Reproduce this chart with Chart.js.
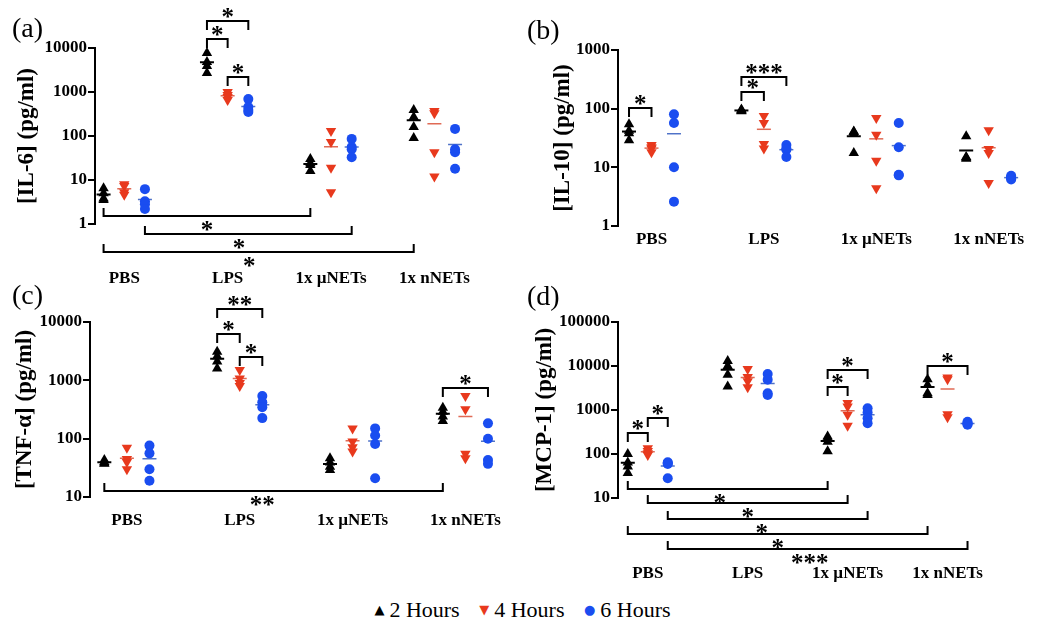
<!DOCTYPE html>
<html>
<head>
<meta charset="utf-8">
<script src="https://cdn.jsdelivr.net/npm/chart.js@4"></script>
<style>
  body { margin: 0; background: #fff; width: 1050px; height: 629px; position: relative; overflow: hidden; font-family: "Liberation Serif", "Times New Roman", Times, "DejaVu Serif", serif; }
  canvas { position: absolute; }
  #legend { position: absolute; left: 0; top: 596px; width: 1045px; text-align: center; font-size: 22px; line-height: 28px; color: #000; }
  #legend span.item { margin: 0 7px; }
  #legend span.mark { font-family: "DejaVu Sans", sans-serif; font-size: 13px; position: relative; top: -3px; margin-right: 5px; }
</style>
</head>
<body>
<canvas id="chart-a" width="515" height="300" style="left:0;top:0"></canvas>
<canvas id="chart-b" width="535" height="270" style="left:515px;top:0"></canvas>
<canvas id="chart-c" width="515" height="260" style="left:0;top:280px"></canvas>
<canvas id="chart-d" width="535" height="310" style="left:515px;top:280px"></canvas>
<div id="legend">
  <span class="item"><span class="mark" style="color:#000">▲</span>2 Hours</span>
  <span class="item"><span class="mark" style="color:#e8391d">▼</span>4 Hours</span>
  <span class="item"><span class="mark" style="color:#1a4df0">●</span>6 Hours</span>
</div>
<script>
const groups = ["PBS", "LPS", "1x µNETs", "1x nNETs"];
const seriesNames = ["2 Hours", "4 Hours", "6 Hours"];

// four mice per group, values in pg/ml
const il6_2h = [[6.5, 5.0, 3.8, 3.5], [7700, 4800, 3900, 2700], [30, 24, 22, 16], [390, 270, 160, 90]];
const il6_4h = [[8.0, 7.3, 5.3, 4.6], [1000, 850, 770, 660], [130, 73, 19, 5.3], [370, 330, 43, 12]];
const il6_6h = [[6.2, 3.3, 2.8, 2.2], [690, 455, 390, 350], [86, 56, 50, 33], [145, 50, 43, 18]];

const il10_2h = [[54, 42, 38, 29], [97, 94, 92, 90], [41, 40, 37, 17.5], [34, 15, 14.5, 14]];
const il10_4h = [[24, 22, 21, 18], [75, 57, 25, 21], [69, 36, 13, 4.4], [43, 20.5, 17.5, 5.4]];
const il10_6h = [[80, 57, 10, 2.6], [24, 21, 20, 15], [57, 22, 7.5, 7.3], [7.2, 6.8, 6.5, 6.2]];

const tnf_2h = [[43, 40, 38, 37], [3100, 2600, 2100, 1600], [46, 39, 33, 29], [340, 290, 240, 200]];
const tnf_4h = [[70, 45, 40, 30], [1500, 1080, 900, 800], [150, 89, 71, 60], [540, 320, 55, 46]];
const tnf_6h = [[76, 56, 30, 19], [540, 420, 345, 225], [150, 113, 81, 21], [183, 100, 43, 37]];

const mcp_2h = [[100, 64, 52, 37], [13000, 10000, 6300, 3400], [250, 230, 190, 115], [5000, 3700, 2400, 2200]];
const mcp_4h = [[135, 117, 104, 95], [8500, 5600, 4500, 3300], [1450, 1200, 780, 440], [5500, 5000, 800, 680]];
const mcp_6h = [[65, 62, 59, 28], [6600, 4900, 2400, 2200], [1100, 880, 650, 500], [540, 500, 485, 460]];

const il6Ticks = [1, 10, 100, 1000, 10000];
const il10Ticks = [1, 10, 100, 1000];
const tnfTicks = [10, 100, 1000, 10000];
const mcpTicks = [10, 100, 1000, 10000, 100000];

// significance brackets: [group, series] at each end, y in pg/ml
const il6Sig = [
    { from: [1, 0], to: [1, 2], y: 41000, legs: "down", text: "*" },
    { from: [1, 0], to: [1, 1], y: 16000, legs: "down", text: "*" },
    { from: [1, 1], to: [1, 2], y: 2200, legs: "down", text: "*" },
    { from: [0, 0], to: [2, 0], y: 1.5, legs: "up", text: "*" },
    { from: [0, 2], to: [2, 2], y: 0.59, legs: "up", text: "*", dx: -0.09 },
    { from: [0, 0], to: [3, 0], y: 0.23, legs: "up", text: "*", dx: -0.09 },
];
const il10Sig = [
    { from: [0, 0], to: [0, 1], y: 103, legs: "down", text: "*" },
    { from: [1, 0], to: [1, 1], y: 192, legs: "down", text: "*" },
    { from: [1, 0], to: [1, 2], y: 346, legs: "down", text: "***" },
];
const tnfSig = [
    { from: [1, 0], to: [1, 2], y: 16700, legs: "down", text: "**" },
    { from: [1, 0], to: [1, 1], y: 6200, legs: "down", text: "*" },
    { from: [1, 1], to: [1, 2], y: 2500, legs: "down", text: "*" },
    { from: [3, 0], to: [3, 2], y: 740, legs: "down", text: "*" },
    { from: [0, 0], to: [3, 0], y: 12.7, legs: "up", text: "**", dx: -0.1 },
];
const mcpSig = [
    { from: [0, 0], to: [0, 1], y: 307, legs: "down", text: "*" },
    { from: [0, 1], to: [0, 2], y: 650, legs: "down", text: "*" },
    { from: [2, 0], to: [2, 1], y: 3400, legs: "down", text: "*" },
    { from: [2, 0], to: [2, 2], y: 8200, legs: "down", text: "*" },
    { from: [3, 0], to: [3, 2], y: 10100, legs: "down", text: "*" },
    { from: [0, 0], to: [2, 0], y: 16, legs: "up", text: "*", dx: -0.08 },
    { from: [0, 1], to: [2, 1], y: 7.6, legs: "up", text: "*" },
    { from: [0, 2], to: [2, 2], y: 3.3, legs: "up", text: "*", dx: -0.06 },
    { from: [0, 0], to: [3, 0], y: 1.5, legs: "up", text: "*" },
    { from: [0, 2], to: [3, 2], y: 0.71, legs: "up", text: "***", dx: -0.08 },
];

const seriesOffsets = [-0.2, 0, 0.2];
const seriesColors = ["#000000", "#e8391d", "#1a4df0"];
const meanColors = ["#000000", "#e06a55", "#4f72c8"];
const FONT = "'Liberation Serif', 'Times New Roman', Times, 'DejaVu Serif', serif";

Chart.defaults.font.family = FONT;
Chart.defaults.color = "#000";

function bracketPlugin(cfg) {
    return {
        id: "brackets",
        afterDraw(chart) {
            const { ctx, scales: { x, y } } = chart;
            ctx.save();
            ctx.strokeStyle = "#000";
            ctx.fillStyle = "#000";
            ctx.lineWidth = 2;
            ctx.lineCap = "square";
            ctx.textAlign = "center";
            ctx.textBaseline = "alphabetic";
            ctx.font = "bold 25px " + FONT;
            cfg.sig.forEach((b) => {
                const v1 = b.from[0] + seriesOffsets[b.from[1]];
                const v2 = b.to[0] + seriesOffsets[b.to[1]];
                const x1 = x.getPixelForValue(v1);
                const x2 = x.getPixelForValue(v2);
                const py = Math.round(y.getPixelForValue(b.y));
                const leg = b.legs === "down" ? 8 : -7;
                ctx.beginPath();
                ctx.moveTo(x1, py + leg);
                ctx.lineTo(x1, py);
                ctx.lineTo(x2, py);
                ctx.lineTo(x2, py + leg);
                ctx.stroke();
                const mid = (v1 + v2) / 2 + (b.dx || 0);
                const starY = b.legs === "down" ? py - 8 : py + 10;
                ctx.fillText(b.text, x.getPixelForValue(mid), starY + 12);
            });
            ctx.font = "28px " + FONT;
            ctx.textAlign = "left";
            ctx.fillText(cfg.label, cfg.labelX, cfg.labelY + 7);
            ctx.restore();
        },
    };
}

function mean(arr) {
    return arr.reduce((a, b) => a + b, 0) / arr.length;
}

function makeChart(id, cfg) {
    const datasets = [];
    cfg.series.forEach((vals, s) => {
        datasets.push({
            label: seriesNames[s],
            data: vals.flatMap((arr, g) => arr.map((v) => ({ x: g + seriesOffsets[s], y: v }))),
            pointStyle: s === 2 ? "circle" : "triangle",
            rotation: s === 1 ? 180 : 0,
            pointRadius: s === 2 ? 5 : 6,
            backgroundColor: seriesColors[s],
            borderColor: seriesColors[s],
            borderWidth: 0,
        });
    });
    cfg.series.forEach((vals, s) => {
        datasets.push({
            label: seriesNames[s] + " mean",
            data: vals.map((arr, g) => ({ x: g + seriesOffsets[s], y: mean(arr) })),
            pointStyle: "line",
            pointRadius: 7,
            borderWidth: s === 0 ? 2 : 1.5,
            borderColor: meanColors[s],
            backgroundColor: meanColors[s],
        });
    });

    new Chart(document.getElementById(id).getContext("2d"), {
        type: "scatter",
        data: { datasets },
        plugins: [bracketPlugin(cfg)],
        options: {
            responsive: false,
            animation: false,
            layout: { padding: { top: cfg.top, right: cfg.right, left: 0, bottom: 0 } },
            plugins: {
                legend: { display: false },
                tooltip: { enabled: false },
            },
            scales: {
                x: {
                    type: "linear",
                    min: cfg.xMin,
                    max: cfg.xMax,
                    afterBuildTicks: (s) => { s.ticks = groups.map((_, i) => ({ value: i })); },
                    afterFit: (s) => { s.height = cfg.xHeight; },
                    ticks: {
                        callback: (v) => groups[v],
                        font: { size: 17, weight: "bold" },
                        padding: cfg.labelPad,
                        maxRotation: 0,
                        autoSkip: false,
                    },
                    grid: { display: false, drawTicks: false },
                    border: { display: false },
                },
                y: {
                    type: "logarithmic",
                    min: cfg.ticks[0],
                    max: cfg.ticks[cfg.ticks.length - 1],
                    afterBuildTicks: (s) => { s.ticks = cfg.ticks.map((v) => ({ value: v })); },
                    afterFit: (s) => { s.width = cfg.axisLeft; },
                    ticks: {
                        callback: (v) => String(v),
                        font: { size: 17, weight: "bold" },
                        padding: 1,
                        autoSkip: false,
                    },
                    grid: { display: true, drawOnChartArea: false, drawTicks: true, tickLength: 7, color: "#000", lineWidth: 2 },
                    border: { display: true, color: "#000", width: 2 },
                    title: {
                        display: true,
                        text: cfg.title,
                        font: { size: 23, weight: "bold" },
                        padding: { top: cfg.titlePad, bottom: 0 },
                    },
                },
            },
        },
    });
}

makeChart("chart-a", {
    series: [il6_2h, il6_4h, il6_6h], ticks: il6Ticks, sig: il6Sig, title: "[IL-6] (pg/ml)",
    label: "(a)", labelX: 12, labelY: 30,
    top: 48, right: 15, xHeight: 76, axisLeft: 95, xMin: -0.283, xMax: 3.3, labelPad: 44, titlePad: 13,
});
makeChart("chart-b", {
    series: [il10_2h, il10_4h, il10_6h], ticks: il10Ticks, sig: il10Sig, title: "[IL-10] (pg/ml)",
    label: "(b)", labelX: 12, labelY: 32,
    top: 50, right: 22, xHeight: 44, axisLeft: 103, xMin: -0.298, xMax: 3.35, labelPad: 3, titlePad: 34,
});
makeChart("chart-c", {
    series: [tnf_2h, tnf_4h, tnf_6h], ticks: tnfTicks, sig: tnfSig, title: "[TNF-α] (pg/ml)",
    label: "(c)", labelX: 12, labelY: 17,
    top: 42, right: 15, xHeight: 43, axisLeft: 90, xMin: -0.327, xMax: 3.3, labelPad: 13, titlePad: 11,
});
makeChart("chart-d", {
    series: [mcp_2h, mcp_4h, mcp_6h], ticks: mcpTicks, sig: mcpSig, title: "[MCP-1] (pg/ml)",
    label: "(d)", labelX: 12, labelY: 18,
    top: 42, right: 22, xHeight: 92, axisLeft: 103, xMin: -0.298, xMax: 3.35, labelPad: 65, titlePad: 16,
});
</script>
</body>
</html>
